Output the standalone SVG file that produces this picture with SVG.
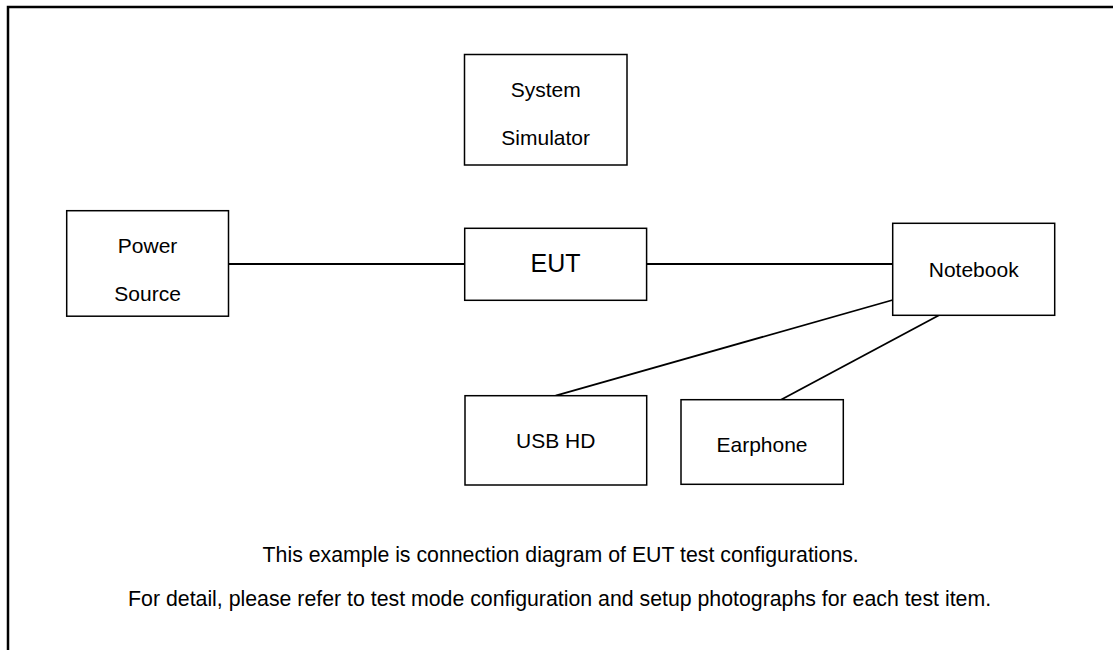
<svg xmlns="http://www.w3.org/2000/svg" width="1113" height="650" viewBox="0 0 1113 650">
<style>
.box{fill:#fff;stroke:#000;stroke-width:1.5}
.lbl{font-family:"Liberation Sans",Arial,sans-serif;font-size:21px;fill:#000;text-anchor:middle}
.big{font-size:25px}
.cap{font-size:21.3px}
.wire{stroke:#000;stroke-width:1.8;fill:none}
</style>
<rect width="1113" height="650" fill="#fff"/>
<path d="M8,660 V7 H1120" fill="none" stroke="#000" stroke-width="2.5"/>
<g id="connectors">
<line class="wire" x1="228.5" y1="264" x2="464.5" y2="264"/>
<line class="wire" x1="646.5" y1="264" x2="892.7" y2="264"/>
<line class="wire" x1="892.7" y1="300" x2="555.7" y2="395.7"/>
<line class="wire" x1="939" y1="315.3" x2="781" y2="399.7"/>
</g>
<g id="system-simulator">
<rect class="box" x="464.5" y="54.5" width="162.5" height="110.5"/>
<text class="lbl" x="545.7" y="96.7">System</text>
<text class="lbl" x="545.7" y="145">Simulator</text>
</g>
<g id="power-source">
<rect class="box" x="66.7" y="210.7" width="161.8" height="105.5"/>
<text class="lbl" x="147.6" y="253.3">Power</text>
<text class="lbl" x="147.6" y="301">Source</text>
</g>
<g id="eut">
<rect class="box" x="464.7" y="228.3" width="181.9" height="72"/>
<text class="lbl big" x="555.6" y="272.3">EUT</text>
</g>
<g id="notebook">
<rect class="box" x="892.7" y="223.3" width="162" height="92"/>
<text class="lbl" x="973.7" y="277.3">Notebook</text>
</g>
<g id="usb-hd">
<rect class="box" x="465" y="395.7" width="181.7" height="89.3"/>
<text class="lbl" x="555.8" y="447.5">USB HD</text>
</g>
<g id="earphone">
<rect class="box" x="681" y="399.7" width="162.3" height="84.6"/>
<text class="lbl" x="762" y="452">Earphone</text>
</g>
<g id="caption">
<text class="lbl cap" x="560.7" y="561.7">This example is connection diagram of EUT test configurations.</text>
<text class="lbl cap" x="559.6" y="606">For detail, please refer to test mode configuration and setup photographs for each test item.</text>
</g>
</svg>
